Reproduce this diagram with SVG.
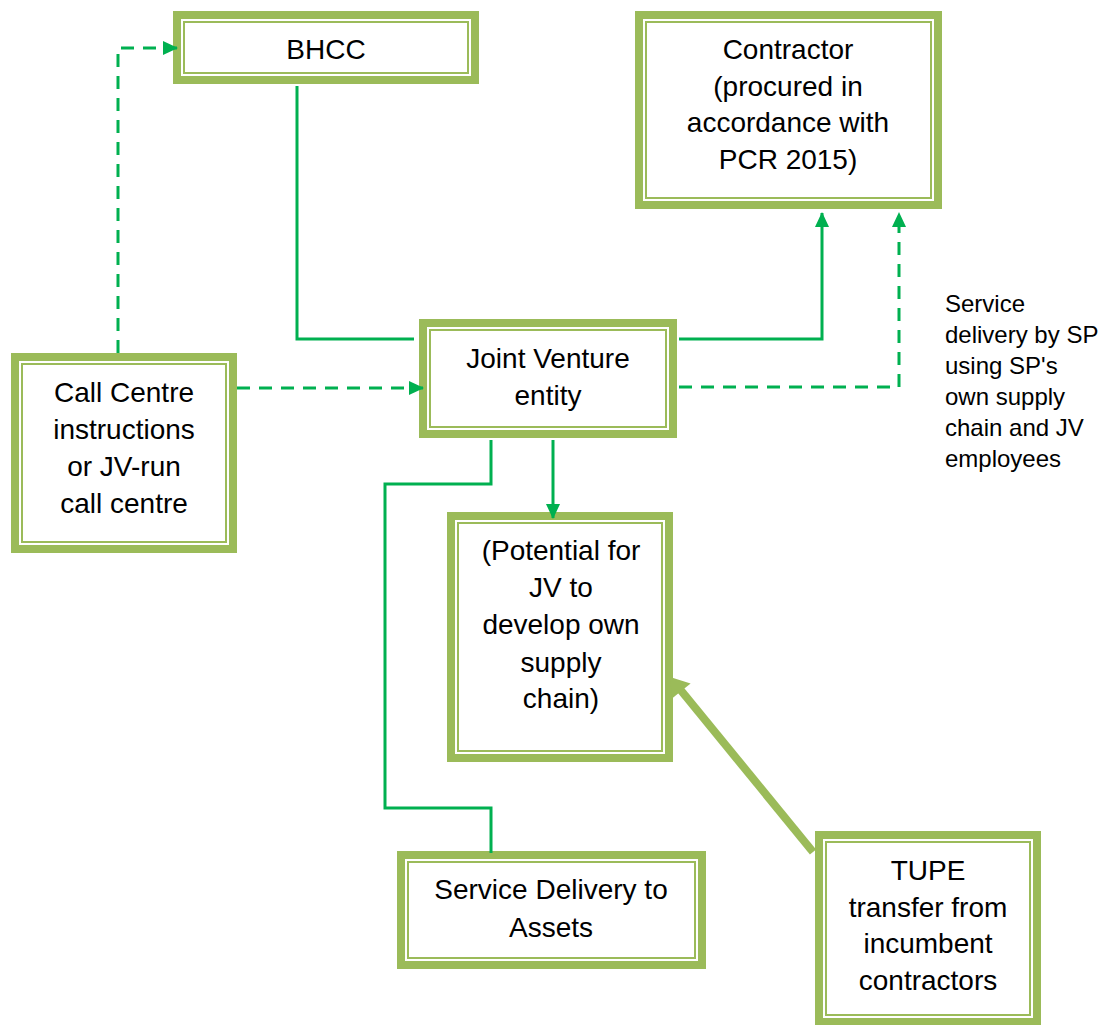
<svg xmlns="http://www.w3.org/2000/svg" width="1107" height="1025" viewBox="0 0 1107 1025">
<style>
.outer{fill:#fff;stroke:#9BBB59;stroke-width:8}
.inner{fill:none;stroke:#9BBB59;stroke-width:2}
.t{font-family:"Liberation Sans",Arial,sans-serif;font-size:28px;fill:#000;text-anchor:middle}
.s{font-family:"Liberation Sans",Arial,sans-serif;font-size:24px;fill:#000}
.c{fill:none;stroke:#00B050;stroke-width:3}
.d{stroke-dasharray:13 9}
</style>
<defs>
<marker id="ah" markerUnits="userSpaceOnUse" markerWidth="16" markerHeight="16" refX="14" refY="7" orient="auto">
<path d="M0,0 L15,7 L0,14 Z" fill="#00B050"/>
</marker>
</defs>
<g id="bhcc">
<rect class="outer" x="177" y="15" width="298" height="65"/>
<rect class="inner" x="184" y="22" width="284" height="51"/>
<text class="t" x="326" y="59">BHCC</text>
</g>
<g id="contractor">
<rect class="outer" x="639" y="15" width="299" height="190"/>
<rect class="inner" x="646" y="22" width="285" height="176"/>
<text class="t" x="788" y="59">Contractor</text>
<text class="t" x="788" y="96">(procured in</text>
<text class="t" x="788" y="132">accordance with</text>
<text class="t" x="788" y="169">PCR 2015)</text>
</g>
<g id="callcentre">
<rect class="outer" x="15" y="357" width="218" height="192"/>
<rect class="inner" x="22" y="364" width="204" height="178"/>
<text class="t" x="124" y="402">Call Centre</text>
<text class="t" x="124" y="439">instructions</text>
<text class="t" x="124" y="476">or JV-run</text>
<text class="t" x="124" y="513">call centre</text>
</g>
<g id="jv">
<rect class="outer" x="423" y="323" width="250" height="111"/>
<rect class="inner" x="430" y="330" width="236" height="97"/>
<text class="t" x="548" y="368">Joint Venture</text>
<text class="t" x="548" y="405">entity</text>
</g>
<g id="potential">
<rect class="outer" x="451" y="516" width="218" height="242"/>
<rect class="inner" x="458" y="523" width="204" height="228"/>
<text class="t" x="561" y="560">(Potential for</text>
<text class="t" x="561" y="597">JV to</text>
<text class="t" x="561" y="634">develop own</text>
<text class="t" x="561" y="672">supply</text>
<text class="t" x="561" y="708">chain)</text>
</g>
<g id="servicedelivery">
<rect class="outer" x="401" y="855" width="301" height="110"/>
<rect class="inner" x="408" y="862" width="287" height="96"/>
<text class="t" x="551" y="899">Service Delivery to</text>
<text class="t" x="551" y="937">Assets</text>
</g>
<g id="tupe">
<rect class="outer" x="819" y="835" width="218" height="187"/>
<rect class="inner" x="826" y="842" width="204" height="173"/>
<text class="t" x="928" y="880">TUPE</text>
<text class="t" x="928" y="917">transfer from</text>
<text class="t" x="928" y="953">incumbent</text>
<text class="t" x="928" y="990">contractors</text>
</g>
<g id="label">
<text class="s" x="945" y="312">Service</text>
<text class="s" x="945" y="343">delivery by SP</text>
<text class="s" x="945" y="374">using SP's</text>
<text class="s" x="945" y="405">own supply</text>
<text class="s" x="945" y="436">chain and JV</text>
<text class="s" x="945" y="467">employees</text>
</g>
<g id="connectors">
<polyline class="c" points="297,86 297,339 414,339"/>
<polyline class="c" points="679,339 822,339 822,213" marker-end="url(#ah)"/>
<polyline class="c d" points="679,387 899,387 899,213" marker-end="url(#ah)"/>
<polyline class="c d" points="237,388 423,388" marker-end="url(#ah)"/>
<polyline class="c d" points="118,353 118,48 177,48" marker-end="url(#ah)"/>
<polyline class="c" points="553,440 553,518" marker-end="url(#ah)"/>
<polyline class="c" points="491,440 491,484 385,484 385,808 491,808 491,853"/>
<line x1="813" y1="852" x2="679" y2="688" stroke="#9BBB59" stroke-width="8"/>
<polygon points="670,677 690.6,683.4 672,698.6" fill="#9BBB59"/>
</g>
</svg>
